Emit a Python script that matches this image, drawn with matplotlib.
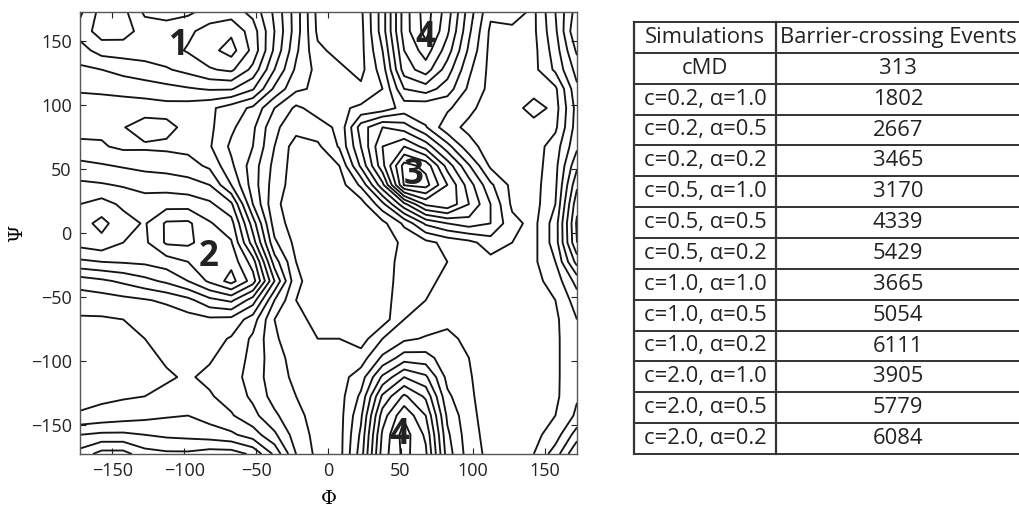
import numpy as np
import matplotlib
matplotlib.use("Agg")
import matplotlib.pyplot as plt

# ---- data -------------------------------------------------------------
phi_centers = [-172.5 + 15 * i for i in range(24)]
psi_centers = [-172.5 + 15 * j for j in range(24)]

# free-energy grid (rows: psi from +172.5 down to -172.5,
# columns: phi from -172.5 to +172.5)
energy_rows = [
    [3.2, 1.6, 1.7, 3.2, 3.4, 3.2, 2.6, 2.5, 3.3, 5.2, 7.5, 10.3, 10.4, 10.2, 7.5, 3.5, 1.5, 3.5, 6.5, 8.8, 8.6, 9.2, 7.0, 4.5],
    [2.6, 1.5, 1.6, 2.4, 2.5, 2.2, 1.6, 1.2, 2.5, 5.0, 7.5, 10.2, 10.4, 10.3, 7.5, 3.5, 1.6, 3.8, 6.8, 9.2, 9.2, 9.2, 7.2, 4.0],
    [3.4, 2.6, 2.5, 2.5, 2.4, 1.9, 1.3, 0.6, 2.3, 5.2, 7.8, 9.8, 10.3, 10.3, 8.0, 4.0, 2.5, 4.5, 7.2, 9.3, 9.4, 9.3, 7.5, 4.8],
    [4.2, 4.0, 3.7, 3.4, 3.1, 2.7, 2.1, 1.8, 3.3, 6.0, 8.2, 9.3, 9.8, 10.3, 8.5, 4.5, 3.5, 5.5, 7.8, 9.3, 9.4, 9.3, 7.8, 5.6],
    [4.9, 4.8, 4.6, 4.5, 4.3, 4.1, 3.9, 3.9, 4.9, 7.2, 8.8, 9.2, 9.3, 9.8, 9.0, 6.0, 5.5, 6.5, 8.2, 9.3, 9.4, 9.6, 9.2, 6.2],
    [5.4, 5.5, 5.6, 5.5, 5.4, 5.5, 5.8, 6.5, 7.2, 9.0, 10.2, 9.6, 9.2, 8.8, 8.6, 7.6, 7.8, 7.8, 8.8, 9.4, 9.6, 8.4, 9.4, 6.6],
    [5.3, 5.2, 5.05, 4.5, 4.7, 5.3, 5.8, 6.8, 7.8, 9.8, 10.6, 10.4, 9.8, 6.5, 5.0, 5.5, 6.9, 8.7, 9.2, 9.4, 9.5, 9.6, 9.2, 6.5],
    [4.8, 4.9, 5.2, 5.15, 5.2, 5.3, 5.9, 7.2, 8.0, 10.0, 11.5, 11.2, 9.9, 7.0, 4.0, 3.0, 4.4, 6.6, 8.7, 9.4, 9.6, 9.5, 8.5, 6.2],
    [3.7, 3.9, 4.1, 4.3, 4.4, 4.6, 5.2, 6.8, 8.5, 10.3, 11.5, 11.5, 11.0, 7.8, 4.3, 0.6, 1.3, 4.4, 6.9, 9.2, 9.6, 9.5, 8.3, 5.2],
    [2.8, 2.9, 3.1, 3.3, 3.4, 3.6, 4.0, 6.0, 8.5, 10.5, 11.5, 11.5, 11.5, 9.8, 6.3, 0.9, 0.6, 3.0, 5.5, 7.8, 9.3, 9.4, 8.2, 4.2],
    [2.0, 1.6, 2.2, 2.6, 2.4, 2.4, 2.8, 3.8, 8.0, 10.8, 11.5, 11.5, 11.5, 11.5, 9.3, 6.3, 3.8, 3.2, 5.0, 7.0, 9.2, 9.4, 8.0, 3.3],
    [1.4, 0.7, 1.6, 2.1, 0.85, 0.8, 1.9, 2.6, 6.5, 10.5, 11.5, 11.5, 11.5, 11.5, 11.3, 9.8, 7.8, 7.0, 6.5, 7.0, 8.7, 9.3, 7.5, 2.8],
    [1.6, 1.3, 2.0, 2.2, 0.85, 0.8, 1.5, 1.9, 5.5, 9.8, 11.3, 11.5, 11.5, 11.5, 11.5, 10.8, 10.3, 9.7, 9.3, 8.5, 9.0, 9.3, 7.5, 3.0],
    [3.2, 3.0, 2.9, 2.8, 2.5, 2.0, 1.6, 1.3, 3.5, 8.5, 11.0, 11.5, 11.5, 11.5, 11.5, 10.6, 10.2, 10.0, 9.6, 9.3, 9.4, 9.2, 8.0, 4.6],
    [5.5, 5.2, 4.8, 4.3, 3.8, 3.0, 1.8, 0.6, 2.5, 7.0, 10.8, 11.5, 11.5, 11.5, 11.5, 10.5, 10.2, 9.8, 9.6, 9.5, 9.5, 9.3, 8.6, 6.6],
    [6.6, 6.5, 6.3, 6.1, 5.8, 5.3, 4.3, 3.8, 5.5, 9.0, 11.0, 11.5, 11.5, 11.5, 11.5, 10.3, 10.0, 9.5, 9.3, 9.6, 9.6, 9.5, 9.0, 7.5],
    [7.1, 7.1, 7.0, 6.9, 6.7, 6.4, 6.2, 6.3, 7.5, 10.0, 10.8, 11.2, 11.5, 11.5, 11.5, 10.0, 9.6, 9.2, 9.1, 9.6, 9.7, 9.6, 9.2, 8.0],
    [7.4, 7.3, 7.2, 7.0, 6.8, 6.5, 6.6, 7.1, 8.2, 9.8, 10.8, 11.0, 11.0, 11.5, 10.0, 9.2, 8.9, 8.8, 9.2, 9.6, 9.7, 9.6, 9.2, 8.2],
    [7.5, 7.5, 7.4, 7.2, 6.9, 6.6, 6.9, 7.4, 8.3, 9.6, 10.4, 10.6, 10.6, 10.5, 8.8, 7.5, 7.6, 8.6, 9.0, 9.6, 9.7, 9.6, 9.2, 8.2],
    [7.5, 7.5, 7.4, 7.3, 7.1, 6.9, 7.2, 7.6, 8.4, 9.6, 10.2, 10.3, 10.4, 9.5, 6.8, 5.0, 5.8, 8.3, 8.9, 9.6, 9.7, 9.6, 9.2, 8.2],
    [7.3, 7.2, 7.1, 7.0, 6.8, 6.5, 6.9, 7.4, 8.2, 9.4, 10.0, 10.3, 10.4, 8.8, 4.8, 2.8, 4.2, 7.8, 8.8, 9.6, 9.7, 9.6, 9.2, 8.1],
    [6.9, 6.7, 6.5, 6.3, 6.1, 6.0, 6.4, 6.9, 7.7, 8.8, 9.8, 10.3, 10.4, 8.2, 3.5, 1.2, 3.0, 7.2, 8.7, 9.5, 9.6, 9.5, 9.0, 7.8],
    [5.0, 4.8, 4.8, 5.0, 5.2, 5.3, 5.5, 5.8, 6.5, 7.8, 9.5, 10.3, 10.4, 7.8, 2.8, 0.5, 2.2, 6.8, 8.6, 9.4, 9.5, 9.3, 8.5, 6.5],
    [3.6, 2.6, 2.6, 3.6, 3.8, 3.8, 3.5, 3.5, 4.2, 6.2, 9.0, 10.3, 10.4, 7.5, 2.5, 0.7, 1.8, 6.5, 8.5, 9.3, 9.3, 9.0, 7.5, 5.0],
]
contour_levels = [1, 2, 3, 4, 5, 6, 7, 8, 9, 10, 11]

basin_labels = ["1", "2", "3", "4", "4"]
basin_phi = [-104, -83, 59, 67, 49]
basin_psi = [146, -19, 45, 152, -158]

x_ticks = [-150, -100, -50, 0, 50, 100, 150]
y_ticks = [-150, -100, -50, 0, 50, 100, 150]

table_header = ["Simulations", "Barrier-crossing Events"]
simulations = ["cMD",
               "c=0.2, α=1.0", "c=0.2, α=0.5", "c=0.2, α=0.2",
               "c=0.5, α=1.0", "c=0.5, α=0.5", "c=0.5, α=0.2",
               "c=1.0, α=1.0", "c=1.0, α=0.5", "c=1.0, α=0.2",
               "c=2.0, α=1.0", "c=2.0, α=0.5", "c=2.0, α=0.2"]
events = [313, 1802, 2667, 3465, 3170, 4339, 5429, 3665, 5054, 6111, 3905, 5779, 6084]

# ---- figure -----------------------------------------------------------
W, H = 1020, 508
fig = plt.figure(figsize=(W / 100, H / 100), dpi=100)
fig.patch.set_facecolor("white")

def fx(px):
    return px / W

def fy(py):
    return 1 - py / H

ax = fig.add_axes([fx(80), fy(454), fx(577) - fx(80), fy(12) - fy(454)])
Z = np.array(energy_rows)[::-1]
X, Y = np.meshgrid(phi_centers, psi_centers)
ax.contour(X, Y, Z, levels=contour_levels, colors="#151515", linewidths=1.35)
ax.set_xlim(-172.5, 172.5)
ax.set_ylim(-172.5, 172.5)
ax.set_xticks(x_ticks)
ax.set_yticks(y_ticks)
ax.set_xticklabels([f"{t}".replace("-", "\u2212") for t in x_ticks])
ax.set_yticklabels([f"{t}".replace("-", "\u2212") for t in y_ticks])
ax.tick_params(direction="in", length=4, width=0.8, top=True, right=True,
               labelsize=13, colors="#222222", pad=6)
for lab in ax.get_xticklabels() + ax.get_yticklabels():
    lab.set_family(["Open Sans", "DejaVu Sans"])
for sp in ax.spines.values():
    sp.set_color("#555555")
    sp.set_linewidth(1.0)
ax.set_xlabel("Φ", family="DejaVu Serif", fontsize=14, labelpad=7)
ax.set_ylabel("Ψ", family="DejaVu Serif", fontsize=14, labelpad=3)

for lab, p, s in zip(basin_labels, basin_phi, basin_psi):
    ax.text(p, s, lab, fontsize=25, fontweight="bold", ha="center", va="center",
            family=["Open Sans", "DejaVu Sans"], color="#222222")

# ---- table ------------------------------------------------------------
left, mid, right = 634, 776, 1020
top, bottom = 22, 454
nrows = 1 + len(simulations)
tax = fig.add_axes([0, 0, 1, 1])
tax.set_xlim(0, W)
tax.set_ylim(H, 0)
tax.axis("off")
rh = (bottom - top) / nrows
for k in range(nrows + 1):
    y = top + k * rh
    tax.plot([left, right], [y, y], color="#333333", lw=1.4)
for x in (left, mid):
    tax.plot([x, x], [top, bottom], color="#333333", lw=1.6)
tfont = dict(family=["Open Sans", "DejaVu Sans"], fontsize=15.8, color="#222222",
             va="center")
col2 = 898
tax.text((left + mid) / 2, top + rh / 2, table_header[0], ha="center", **tfont)
tax.text(col2, top + rh / 2, table_header[1], ha="center", **tfont)
for k, (s, e) in enumerate(zip(simulations, events)):
    yc = top + (k + 1.5) * rh
    tax.text((left + mid) / 2, yc, s, ha="center", **tfont)
    tax.text(col2, yc, str(e), ha="center", **tfont)

fig.savefig("out.png", dpi=100)
